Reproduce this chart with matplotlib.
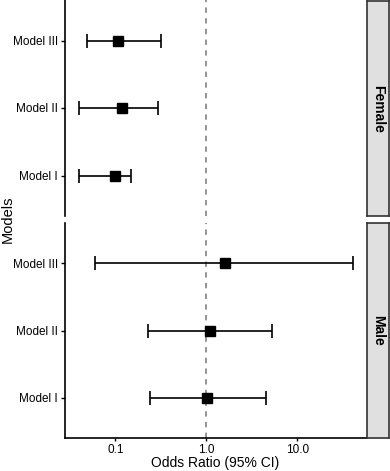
import matplotlib
matplotlib.use('Agg')

import matplotlib.pyplot as plt
from matplotlib.ticker import FixedLocator, NullLocator

plt.rcParams['font.family'] = ['Liberation Sans', 'DejaVu Sans']

# Data
models = ["Model I", "Model II", "Model III"]
panels = ["Female", "Male"]
female_or = [0.100, 0.119, 0.108]
female_lo = [0.040, 0.040, 0.049]
female_hi = [0.150, 0.297, 0.320]
male_or = [1.02, 1.11, 1.62]
male_lo = [0.243, 0.230, 0.060]
male_hi = [4.56, 5.30, 41.0]
xticks = [0.1, 1.0, 10.0]
xtick_labels = ["0.1", "1.0", "10.0"]

W, H = 390, 471
fig = plt.figure(figsize=(W / 100, H / 100), dpi=100)


def px_axes(x0, y0, x1, y1):
    # pixel box measured from the top-left corner
    return fig.add_axes([x0 / W, 1 - y1 / H, (x1 - x0) / W, (y1 - y0) / H])


panel_boxes = [(65, 0, 366, 216), (65, 223, 366, 438)]
strip_boxes = [(367, 1, 389, 216), (367, 223, 389, 438)]
series = [(female_or, female_lo, female_hi), (male_or, male_lo, male_hi)]

for i, (name, box, sbox, (est, lo, hi)) in enumerate(zip(panels, panel_boxes, strip_boxes, series)):
    ax = px_axes(*box)
    ypos = list(range(1, len(models) + 1))
    err = [[e - l for e, l in zip(est, lo)], [h - e for e, h in zip(est, hi)]]
    ax.axvline(1.0, color='#777777', linestyle=(0, (3.5, 3.5)), linewidth=1.1, zorder=1)
    ax.errorbar(est, ypos, xerr=err, fmt='s', color='black', ecolor='black',
                markersize=7, elinewidth=1.2, capsize=5, capthick=1.2, zorder=3)
    ax.set_xscale('log')
    ax.set_xlim(0.028, 57)
    ax.set_ylim(0.4, 3.6)
    ax.set_yticks(ypos)
    ax.set_yticklabels(models, fontsize=8.5)
    ax.xaxis.set_major_locator(FixedLocator(xticks))
    ax.xaxis.set_minor_locator(NullLocator())
    for s in ['top', 'right']:
        ax.spines[s].set_visible(False)
    ax.spines['left'].set_linewidth(1.2)
    ax.spines['bottom'].set_linewidth(1.2)
    ax.tick_params(axis='y', length=3, width=1, pad=2, colors='black')
    if i == 0:
        ax.spines['bottom'].set_visible(False)
        ax.tick_params(axis='x', bottom=False, labelbottom=False)
    else:
        ax.set_xticklabels(xtick_labels, fontsize=8.5)
        ax.tick_params(axis='x', length=2.5, width=1, pad=1.5, colors='black')

    sax = px_axes(*sbox)
    sax.set_facecolor('#e0e0e0')
    sax.set_xticks([])
    sax.set_yticks([])
    for s in sax.spines.values():
        s.set_linewidth(1.2)
        s.set_color('#333333')
    sax.text(0.5, 0.5, name, rotation=-90, ha='center', va='center',
             fontsize=10, fontweight='bold', transform=sax.transAxes)

fig.text(215 / W, 1 - 463.5 / H, "Odds Ratio (95% CI)", ha='center', va='center', fontsize=10)
fig.text(8 / W, 1 - 219 / H, "Models", rotation=90, ha='center', va='center', fontsize=10.5)

fig.savefig("out.png", dpi=100)
